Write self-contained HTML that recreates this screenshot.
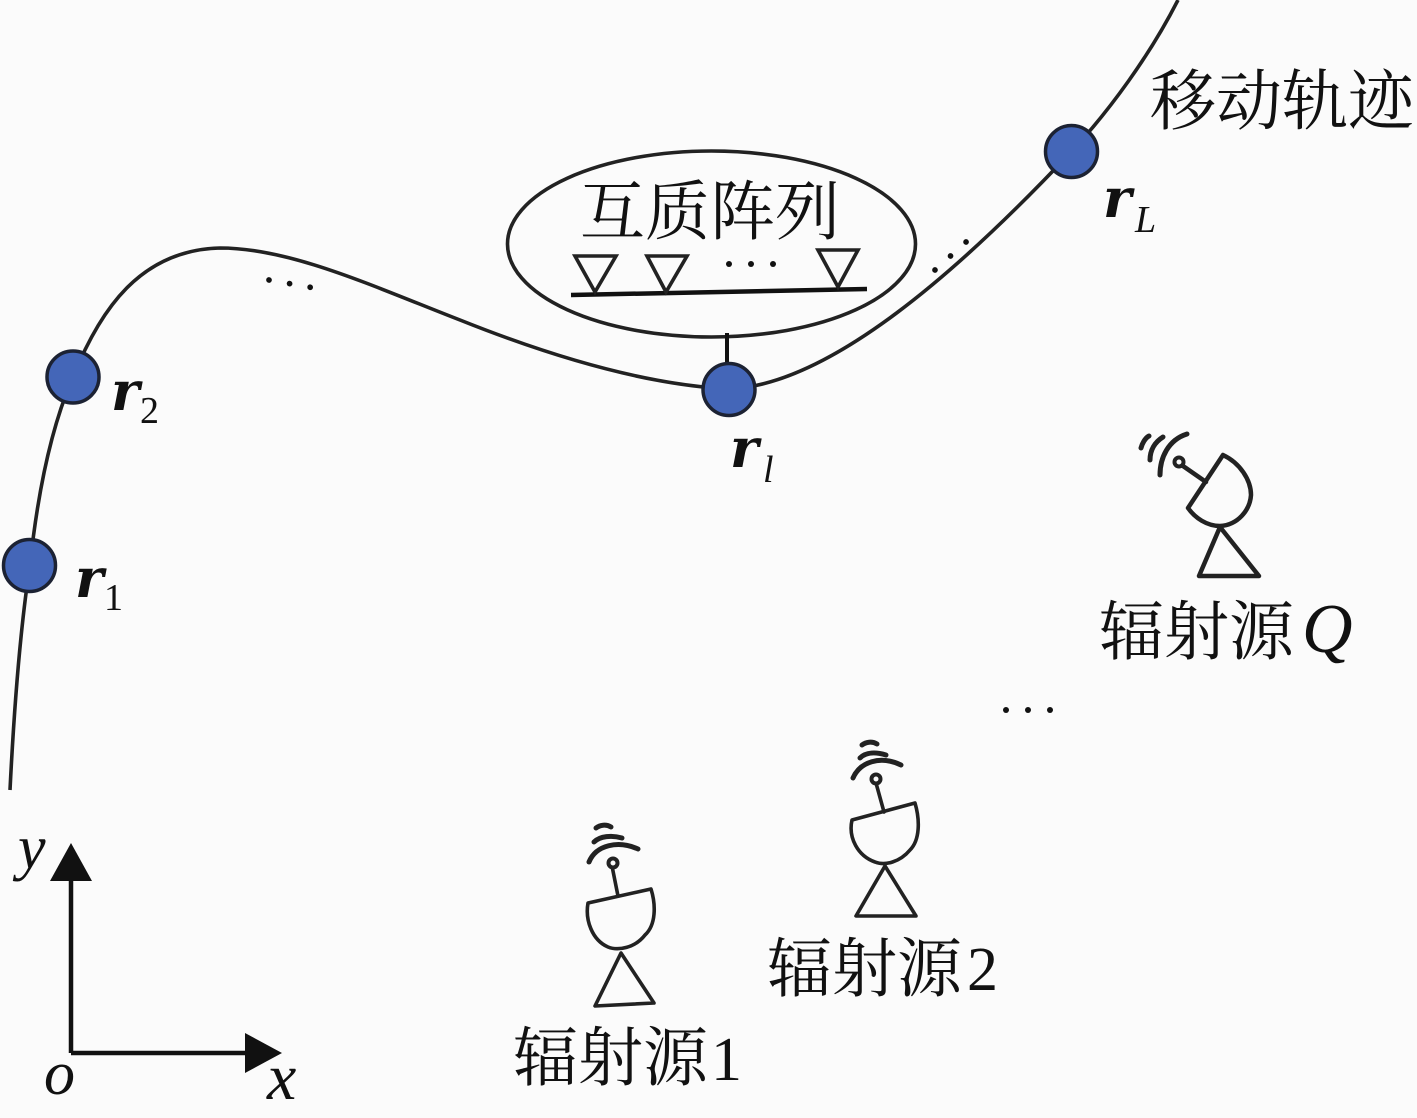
<!DOCTYPE html>
<html>
<head>
<meta charset="utf-8">
<style>
html,body{margin:0;padding:0;background:#fbfbfb;width:1417px;height:1118px;overflow:hidden}
svg{display:block}
.cn{font-family:"Liberation Serif","Noto Serif CJK SC",serif;font-size:65px;fill:#111}
.m{font-family:"Liberation Serif",serif;fill:#111}
.r{font-family:"DejaVu Serif",serif;font-weight:bold;font-style:italic;font-size:54px}
.s{font-size:38px}
.si{font-size:38px;font-style:italic}
.i{font-style:italic;font-size:54px}
.n{font-size:62px}
.l{fill:none;stroke:#222;stroke-width:3.6}
.d{fill:#111}
</style>
</head>
<body>
<svg width="1417" height="1118" viewBox="0 0 1417 1118" xmlns="http://www.w3.org/2000/svg">
<defs>
<g id="dots"><circle cx="0" cy="0" r="3"/><circle cx="22" cy="0" r="3"/><circle cx="44" cy="0" r="3"/></g>
</defs>

<!-- trajectory -->
<path class="l" d="M10 790 C14 710 20 630 30 565 C38 490 52 425 73 377 C100 310 140 250 220 248 C290 248 370 285 460 320 C560 360 650 385 729 389 C830 385 960 270 1071 152 C1110 110 1150 55 1178 0"/>

<!-- array -->
<ellipse class="l" cx="711.5" cy="244" rx="204" ry="93"/>
<line x1="727" y1="333" x2="727" y2="365" stroke="#111" stroke-width="4"/>
<line x1="571" y1="295" x2="867" y2="289" stroke="#111" stroke-width="4.5"/>
<path class="l" d="M575 256H616L595 292Z"/>
<path class="l" d="M647 256H687L666 292Z"/>
<path class="l" d="M818 250H858L838 287Z"/>
<g class="d" transform="translate(729,264)"><use href="#dots"/></g>
<text class="cn" x="580" y="234">互质阵列</text>

<!-- nodes -->
<g fill="#4466b8" stroke="#1c2233" stroke-width="3.5">
<circle cx="29.500" cy="565.500" r="26"/>
<circle cx="73" cy="377" r="26"/>
<circle cx="729" cy="389.500" r="26"/>
<circle cx="1071.500" cy="151.500" r="26"/>
</g>

<!-- labels -->
<text class="m r" x="75" y="597">r</text><text class="m s" x="104" y="610">1</text>
<text class="m r" x="111" y="410">r</text><text class="m s" x="140" y="423">2</text>
<text class="m r" x="730" y="467">r</text><text class="m si" x="763" y="482">l</text>
<text class="m r" x="1103" y="217">r</text><text class="m si" x="1135" y="232">L</text>

<text class="cn" x="1150" y="124" style="font-size:66px">移动轨迹</text>

<!-- ellipses on the trajectory -->
<g class="d" transform="translate(269,280) rotate(10)"><use href="#dots" transform="scale(.95)"/></g>
<g class="d" transform="translate(935,270) rotate(-42)"><use href="#dots" transform="scale(.95)"/></g>
<g class="d" transform="translate(1006,710)"><use href="#dots"/></g>

<!-- source Q -->
<g class="l" stroke-linecap="round" stroke-linejoin="round">
<path d="M1223 455C1240 463 1251 480 1251 495C1250 510 1238 525 1220 526C1207 526 1195 518 1188 508Z" stroke-width="4.500"/>
<path d="M1206 482L1183 466" stroke-width="4.500"/>
<path d="M1220 527L1259 576H1199Z" stroke-width="4.500"/>
<path d="M1160 475C1160 458 1168 440 1187 434" stroke-width="5"/>
<path d="M1150 460C1150 450 1155 442 1163 437" stroke-width="5"/>
<path d="M1141 448C1142 444 1145 438 1149 436" stroke-width="5"/>
</g>
<circle cx="1179" cy="462" r="4.500" fill="#fbfbfb" stroke="#222" stroke-width="4"/>
<text class="cn" x="1099" y="654">辐射源</text>
<text class="m i" x="1302" y="652" style="font-size:70px">Q</text>

<!-- source 2 -->
<g class="l" stroke-linejoin="round" stroke-linecap="round" stroke-width="4.500">
<path d="M852 820L915 803C920 820 920 840 910 850C900 862 885 866 875 862C858 856 848 838 852 820Z"/>
<path d="M884 812L876 783"/>
<path d="M856 916H916L885 866Z"/>
<path d="M853 778C860 762 880 755 901 765" stroke-width="5"/>
<path d="M860 758C866 752 876 752 886 755" stroke-width="5"/>
<path d="M862 745C866 742 872 741 877 744" stroke-width="5"/>
</g>
<circle cx="876" cy="779" r="4.500" fill="#fbfbfb" stroke="#222" stroke-width="4"/>
<text class="cn" x="767" y="991">辐射源</text>
<text class="m n" x="967" y="990">2</text>

<!-- source 1 -->
<g class="l" stroke-linejoin="round" stroke-linecap="round" stroke-width="4.500">
<path d="M588 903L651 889C656 905 656 925 645 935C635 948 618 951 608 947C592 940 585 920 588 903Z"/>
<path d="M618 896L612 866"/>
<path d="M595 1006L654 1003L621 953Z"/>
<path d="M589 862C596 845 618 840 638 849" stroke-width="5"/>
<path d="M594 842C600 836 612 835 622 838" stroke-width="5"/>
<path d="M596 828C600 825 606 824 611 827" stroke-width="5"/>
</g>
<circle cx="613" cy="863" r="4.500" fill="#fbfbfb" stroke="#222" stroke-width="4"/>
<text class="cn" x="513" y="1080">辐射源</text>
<text class="m n" x="711" y="1080">1</text>

<!-- axes -->
<path d="M71 1053V870M71 1053H255" fill="none" stroke="#111" stroke-width="4.500"/>
<path d="M50 881L71 843L92 881Z" fill="#111"/>
<path d="M245 1033L282 1053L245 1073Z" fill="#111"/>
<text class="m i" x="18" y="868" style="font-size:62px">y</text>
<text class="m i" x="44" y="1094" style="font-size:62px">o</text>
<text class="m i" x="267" y="1099" style="font-size:66px">x</text>
</svg>
</body>
</html>
